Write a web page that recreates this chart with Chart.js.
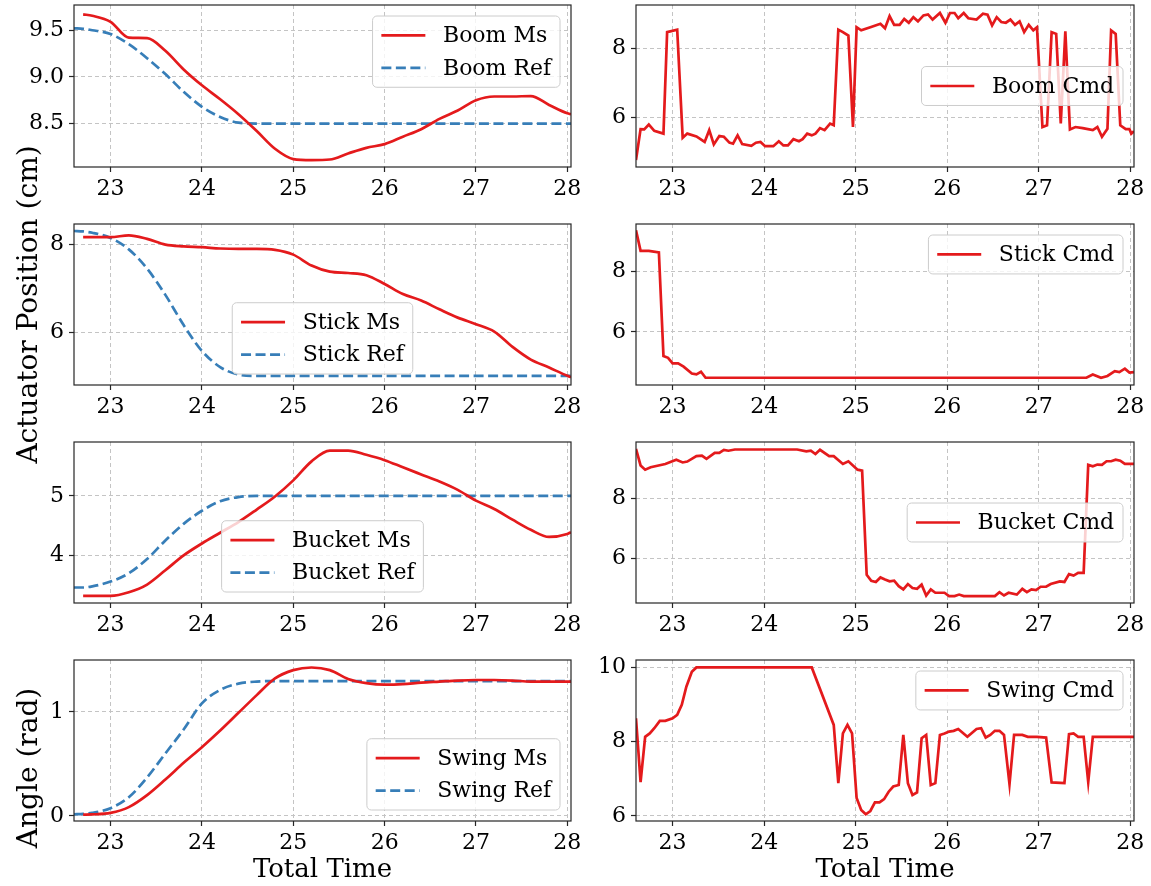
<!DOCTYPE html>
<html>
<head>
<meta charset="utf-8">
<script src="https://cdn.jsdelivr.net/npm/chart.js@4.4.0/dist/chart.umd.min.js"></script>
<style>
html, body { margin: 0; padding: 0; background: #fff; }
#wrap { position: relative; width: 1151px; height: 886px; }
#wrap canvas { position: absolute; left: 0; top: 0; }
</style>
</head>
<body>
<div id="wrap"></div>
<script>
// ---- DATA ----
// shared time grid for the measured / reference curves (left column)
const tGrid = [22.6, 22.7, 22.8, 23.0, 23.2, 23.4, 23.6, 23.8, 24.0, 24.2, 24.4, 24.6, 24.8, 25.0, 25.2,
  25.4, 25.6, 25.8, 26.0, 26.2, 26.4, 26.6, 26.8, 27.0, 27.2, 27.4, 27.6, 27.8, 28.0, 28.04];

const boomMs = [null, 9.67, 9.655, 9.59, 9.42, 9.415, 9.28, 9.08, 8.91, 8.76, 8.60, 8.42, 8.23, 8.12, 8.108,
  8.115, 8.18, 8.24, 8.28, 8.36, 8.44, 8.55, 8.64, 8.75, 8.79, 8.79, 8.795, 8.70, 8.61, 8.60];
const boomRef = [9.52, 9.515, 9.50, 9.46, 9.35, 9.20, 9.03, 8.84, 8.68, 8.57, 8.51, 8.50, 8.50, 8.50, 8.50,
  8.50, 8.50, 8.50, 8.50, 8.50, 8.50, 8.50, 8.50, 8.50, 8.50, 8.50, 8.50, 8.50, 8.50, 8.50];

const stickMs = [null, 8.17, 8.17, 8.17, 8.21, 8.13, 8.00, 7.96, 7.94, 7.91, 7.90, 7.90, 7.88, 7.77, 7.52,
  7.38, 7.35, 7.30, 7.10, 6.87, 6.72, 6.52, 6.33, 6.18, 6.01, 5.66, 5.37, 5.19, 5.00, 4.97];
const stickRef = [8.31, 8.30, 8.27, 8.15, 7.89, 7.45, 6.85, 6.16, 5.57, 5.20, 5.03, 5.00, 5.00, 5.00, 5.00,
  5.00, 5.00, 5.00, 5.00, 5.00, 5.00, 5.00, 5.00, 5.00, 5.00, 5.00, 5.00, 5.00, 5.00, 5.00];

const bucketMs = [null, 3.32, 3.32, 3.32, 3.38, 3.51, 3.75, 4.00, 4.20, 4.38, 4.56, 4.77, 4.99, 5.26, 5.58,
  5.76, 5.76, 5.69, 5.60, 5.48, 5.36, 5.24, 5.10, 4.92, 4.78, 4.60, 4.43, 4.31, 4.36, 4.39];
const bucketRef = [3.46, 3.46, 3.48, 3.56, 3.70, 3.94, 4.25, 4.53, 4.75, 4.91, 4.98, 5.00, 5.00, 5.00, 5.00,
  5.00, 5.00, 5.00, 5.00, 5.00, 5.00, 5.00, 5.00, 5.00, 5.00, 5.00, 5.00, 5.00, 5.00, 5.00];

const swingMs = [null, 0.013, 0.015, 0.03, 0.085, 0.20, 0.35, 0.51, 0.66, 0.82, 0.99, 1.16, 1.32, 1.40, 1.425,
  1.40, 1.315, 1.275, 1.26, 1.265, 1.28, 1.29, 1.30, 1.305, 1.305, 1.30, 1.29, 1.29, 1.29, 1.29];
const swingRef = [0.016, 0.02, 0.03, 0.075, 0.18, 0.37, 0.60, 0.83, 1.08, 1.21, 1.27, 1.29, 1.295, 1.295, 1.295,
  1.295, 1.295, 1.295, 1.295, 1.295, 1.295, 1.295, 1.295, 1.295, 1.295, 1.295, 1.295, 1.295, 1.295, 1.295];

// command signals (right column)
const boomCmdT = [22.6, 22.65, 22.69, 22.74, 22.8, 22.9, 22.94, 23.05, 23.11, 23.16,
  23.26, 23.35, 23.4, 23.45, 23.51, 23.56, 23.62, 23.66, 23.71, 23.76,
  23.86, 23.91, 23.96, 24.01, 24.1, 24.16, 24.21, 24.26, 24.32, 24.38,
  24.42, 24.47, 24.52, 24.56, 24.61, 24.66, 24.72, 24.76, 24.81, 24.86,
  24.92, 24.97, 25.01, 25.06, 25.16, 25.27, 25.32, 25.37, 25.42, 25.48,
  25.53, 25.58, 25.63, 25.68, 25.74, 25.79, 25.84, 25.92, 25.98, 26.03,
  26.08, 26.12, 26.18, 26.23, 26.32, 26.39, 26.44, 26.49, 26.54, 26.59,
  26.64, 26.69, 26.74, 26.79, 26.84, 26.89, 26.94, 26.98, 27.04, 27.09,
  27.14, 27.19, 27.24, 27.29, 27.34, 27.4, 27.48, 27.59, 27.64, 27.69,
  27.75, 27.79, 27.84, 27.89, 27.95, 27.99, 28.01, 28.04];
const boomCmd = [4.78, 5.67, 5.66, 5.80, 5.62, 5.54, 8.46, 8.53, 5.42, 5.54,
  5.46, 5.30, 5.64, 5.23, 5.47, 5.45, 5.28, 5.25, 5.49, 5.24,
  5.19, 5.28, 5.30, 5.18, 5.18, 5.32, 5.20, 5.20, 5.38, 5.32,
  5.38, 5.54, 5.49, 5.54, 5.70, 5.64, 5.83, 5.78, 8.53, 8.46,
  8.36, 5.73, 8.60, 8.51, 8.60, 8.70, 8.57, 8.92, 8.67, 8.67,
  8.84, 8.73, 8.89, 8.77, 8.94, 8.97, 8.82, 9.01, 8.73, 9.01,
  9.01, 8.86, 9.01, 8.86, 8.82, 8.99, 8.96, 8.65, 8.89, 8.75,
  8.73, 8.82, 8.67, 8.77, 8.46, 8.67, 8.51, 8.60, 5.73, 5.78,
  8.46, 8.41, 5.83, 8.48, 5.66, 5.73, 5.70, 5.64, 5.73, 5.45,
  5.68, 8.51, 8.41, 5.78, 5.67, 5.67, 5.54, 5.61];

const stickCmdT = [22.6, 22.65, 22.74, 22.85, 22.9, 22.95, 23.0, 23.06, 23.12, 23.21, 23.26, 23.31, 23.36,
  27.52, 27.59, 27.68, 27.75, 27.83, 27.88, 27.94, 27.99, 28.04];
const stickCmd = [9.37, 8.69, 8.69, 8.64, 5.20, 5.14, 4.96, 4.96, 4.85, 4.62, 4.59, 4.68, 4.48,
  4.48, 4.59, 4.48, 4.54, 4.70, 4.67, 4.78, 4.65, 4.67];

const bucketCmdT = [22.6, 22.65, 22.7, 22.76, 22.92, 23.04, 23.11, 23.16, 23.26, 23.32,
  23.37, 23.46, 23.51, 23.56, 23.61, 23.68, 24.36, 24.46, 24.51, 24.56,
  24.61, 24.71, 24.76, 24.86, 24.92, 25.02, 25.07, 25.12, 25.17, 25.22,
  25.27, 25.32, 25.37, 25.42, 25.47, 25.52, 25.57, 25.62, 25.67, 25.72,
  25.77, 25.82, 25.87, 25.97, 26.02, 26.08, 26.13, 26.18, 26.52, 26.57,
  26.62, 26.67, 26.76, 26.82, 26.87, 26.92, 26.97, 27.02, 27.08, 27.13,
  27.23, 27.28, 27.33, 27.38, 27.43, 27.49, 27.54, 27.59, 27.64, 27.69,
  27.74, 27.79, 27.84, 27.89, 27.94, 28.04];
const bucketCmd = [9.65, 9.10, 8.96, 9.04, 9.15, 9.29, 9.20, 9.23, 9.41, 9.43,
  9.32, 9.52, 9.52, 9.62, 9.59, 9.63, 9.63, 9.57, 9.59, 9.48,
  9.62, 9.41, 9.41, 9.15, 9.24, 8.96, 8.93, 5.47, 5.27, 5.23,
  5.38, 5.31, 5.25, 5.27, 5.09, 4.98, 5.16, 5.03, 5.00, 5.14,
  4.78, 4.98, 4.87, 4.87, 4.76, 4.76, 4.81, 4.76, 4.76, 4.89,
  4.78, 4.87, 4.81, 5.00, 4.89, 4.98, 4.96, 5.07, 5.07, 5.16,
  5.25, 5.23, 5.49, 5.44, 5.53, 5.53, 9.12, 9.07, 9.13, 9.12,
  9.24, 9.24, 9.29, 9.26, 9.15, 9.15];

const swingCmdT = [22.6, 22.65, 22.7, 22.75, 22.8, 22.86, 22.92, 23.0, 23.05, 23.1,
  23.15, 23.21, 23.26, 24.52, 24.76, 24.81, 24.86, 24.91, 24.96, 25.01,
  25.06, 25.11, 25.16, 25.21, 25.26, 25.31, 25.36, 25.41, 25.47, 25.52,
  25.57, 25.62, 25.67, 25.72, 25.77, 25.82, 25.87, 25.92, 25.97, 26.02,
  26.07, 26.12, 26.22, 26.32, 26.37, 26.42, 26.47, 26.52, 26.57, 26.62,
  26.68, 26.73, 26.82, 26.88, 26.98, 27.08, 27.14, 27.28, 27.33, 27.38,
  27.43, 27.49, 27.54, 27.59, 28.04];
const swingCmd = [8.63, 6.91, 8.13, 8.22, 8.36, 8.56, 8.56, 8.63, 8.72, 8.99,
  9.48, 9.88, 10.0, 10.0, 8.45, 6.88, 8.22, 8.45, 8.22, 6.48,
  6.16, 6.04, 6.13, 6.36, 6.36, 6.45, 6.65, 6.79, 6.83, 8.18,
  6.88, 6.56, 6.63, 8.09, 8.18, 6.83, 6.88, 8.18, 8.22, 8.27,
  8.29, 8.34, 8.13, 8.34, 8.36, 8.11, 8.18, 8.29, 8.29, 8.18,
  6.85, 8.18, 8.18, 8.13, 8.13, 8.11, 6.90, 6.88, 8.20, 8.22,
  8.13, 8.13, 6.91, 8.13, 8.13];

// axis ranges
const xRange = [22.6, 28.04];
const yRangeLeft = [[8.035, 9.77], [4.79, 8.47], [3.20, 5.905], [-0.048, 1.497]];
const yRangeRight = [[4.58, 9.24], [4.24, 9.58], [4.53, 9.88], [5.86, 10.2]];
const yStepLeft = [0.5, 2, 1, 1];

// ---- LAYOUT / STYLE ----
const W = 1151, H = 886;
const RED = "#e41a1c", BLUE = "#377eb8";
const FONT = "DejaVu Serif";
const colX = [[74, 571], [636, 1134]];
const rowY = [[5, 167], [224, 385], [442, 603], [660, 821]];
const wrap = document.getElementById("wrap");

function pts(t, v){ return t.map((x, i) => ({x: x, y: v[i]})); }

function msSet(label, v){
  return {label, data: pts(tGrid, v), borderColor: RED, borderWidth: 2.7,
    cubicInterpolationMode: "monotone", pointRadius: 0, fill: false};
}
function refSet(label, v){
  return {label, data: pts(tGrid, v), borderColor: BLUE, borderWidth: 2.7, borderDash: [10, 4.5],
    cubicInterpolationMode: "monotone", pointRadius: 0, fill: false};
}
function cmdSet(label, t, v){
  return {label, data: pts(t, v), borderColor: RED, borderWidth: 2.7, tension: 0, pointRadius: 0, fill: false};
}

// box round the plot area
const framePlugin = {
  id: "frame",
  afterDatasetsDraw(chart){
    const a = chart.chartArea, ctx = chart.ctx;
    ctx.save();
    ctx.strokeStyle = "#262626";
    ctx.lineWidth = 1.2;
    ctx.strokeRect(a.left, a.top, a.right - a.left, a.bottom - a.top);
    ctx.restore();
  }
};

// matplotlib-like legend inside the axes
const boxLegend = {
  id: "boxLegend",
  afterDraw(chart, args, opts){
    const ctx = chart.ctx, a = chart.chartArea, F = opts.size;
    const sets = chart.data.datasets;
    ctx.save();
    ctx.font = F + "px '" + FONT + "'";
    const tw = Math.max(...sets.map(d => ctx.measureText(d.label).width));
    const rowH = F * 0.97, pad = 0.4 * F, hl = 2 * F, gap = 0.8 * F, sp = 0.5 * F, m = 0.5 * F;
    const bw = pad * 2 + hl + gap + tw;
    const bh = pad * 2 + sets.length * rowH + (sets.length - 1) * sp;
    const loc = opts.loc;
    let x, y;
    if (loc.endsWith("right")) x = a.right - m - bw;
    else if (loc.endsWith("left")) x = a.left + m;
    else x = (a.left + a.right) / 2 - bw / 2;
    if (loc.startsWith("upper")) y = a.top + m;
    else if (loc.startsWith("lower")) y = a.bottom - m - bh;
    else y = (a.top + a.bottom) / 2 - bh / 2;

    ctx.beginPath();
    ctx.roundRect(x, y, bw, bh, 0.2 * F);
    ctx.fillStyle = "rgba(255,255,255,0.8)";
    ctx.fill();
    ctx.strokeStyle = "#cccccc";
    ctx.lineWidth = 1;
    ctx.stroke();

    sets.forEach((d, i) => {
      const cy = y + pad + i * (rowH + sp) + rowH / 2;
      ctx.beginPath();
      ctx.setLineDash(d.borderDash || []);
      ctx.strokeStyle = d.borderColor;
      ctx.lineWidth = d.borderWidth;
      ctx.moveTo(x + pad, cy);
      ctx.lineTo(x + pad + hl, cy);
      ctx.stroke();
      ctx.setLineDash([]);
      ctx.fillStyle = "#000";
      ctx.textAlign = "left";
      ctx.textBaseline = "middle";
      ctx.fillText(d.label, x + pad + hl + gap, cy + 1);
    });
    ctx.restore();
  }
};

// free figure label (rotated y label that is not centred on its axes)
const figLabel = {
  id: "figLabel",
  afterDraw(chart, args, opts){
    if (!opts.text) return;
    const ctx = chart.ctx;
    ctx.save();
    ctx.translate(opts.x, opts.y);
    ctx.rotate(-Math.PI / 2);
    ctx.font = opts.size + "px '" + FONT + "'";
    ctx.fillStyle = "#000";
    ctx.textAlign = "center";
    ctx.textBaseline = "middle";
    ctx.fillText(opts.text, 0, 0);
    ctx.restore();
  }
};

function zeroPad(s){ s.paddingLeft = 0; s.paddingRight = 0; s.paddingTop = 0; s.paddingBottom = 0; }

function makeChart(col, row, sets, yr, step, fmt, loc, yTitle, xTitle, extra){
  const [L, R] = colX[col], [T, B] = rowY[row];
  const yw = col === 0 ? 74 : 60;
  const xh = xTitle ? H - B : 40;
  const cv = document.createElement("canvas");
  cv.width = W; cv.height = H;
  cv.style.width = W + "px"; cv.style.height = H + "px";
  wrap.appendChild(cv);
  const tickFont = {family: FONT, size: 22};
  const grid = {color: "#c4c4c4", lineWidth: 1, tickLength: 5, tickColor: "#262626", tickWidth: 1.2, tickBorderDash: []};
  new Chart(cv, {
    type: "line",
    data: {datasets: sets},
    options: {
      responsive: false,
      animation: false,
      devicePixelRatio: 1,
      layout: {padding: {left: L - yw, top: T, right: W - R, bottom: H - B - xh}},
      plugins: {
        legend: {display: false},
        tooltip: {enabled: false},
        boxLegend: {loc: loc, size: 22},
        figLabel: extra || {}
      },
      scales: {
        x: {
          type: "linear", min: xRange[0], max: xRange[1],
          afterFit: s => { s.height = xh; zeroPad(s); },
          ticks: {stepSize: 1, includeBounds: false, maxRotation: 0, autoSkip: false, padding: 4,
            color: "#000", font: tickFont},
          grid: grid,
          border: {display: false, dash: [4, 3]},
          title: {display: !!xTitle, text: xTitle || "", color: "#000",
            font: {family: FONT, size: 26}, padding: {top: 0, bottom: 0}}
        },
        y: {
          min: yr[0], max: yr[1],
          afterFit: s => { s.width = yw; zeroPad(s); },
          ticks: {stepSize: step, includeBounds: false, padding: 5, color: "#000", font: tickFont,
            callback: v => fmt ? v.toFixed(1) : String(v)},
          grid: grid,
          border: {display: false, dash: [4, 3]},
          title: {display: !!yTitle, text: yTitle || "", color: "#000",
            font: {family: FONT, size: 28}, padding: {top: 13, bottom: 0}}
        }
      }
    },
    plugins: [framePlugin, boxLegend, figLabel]
  });
}

// left column
makeChart(0, 0, [msSet("Boom Ms", boomMs), refSet("Boom Ref", boomRef)],
  yRangeLeft[0], yStepLeft[0], true, "upper right", null, null);
makeChart(0, 1, [msSet("Stick Ms", stickMs), refSet("Stick Ref", stickRef)],
  yRangeLeft[1], yStepLeft[1], false, "lower center", "Actuator Position (cm)", null);
makeChart(0, 2, [msSet("Bucket Ms", bucketMs), refSet("Bucket Ref", bucketRef)],
  yRangeLeft[2], yStepLeft[2], false, "lower center", null, null);
makeChart(0, 3, [msSet("Swing Ms", swingMs), refSet("Swing Ref", swingRef)],
  yRangeLeft[3], yStepLeft[3], false, "lower right", null, "Total Time",
  {text: "Angle (rad)", x: 30, y: 768, size: 28});

// right column
makeChart(1, 0, [cmdSet("Boom Cmd", boomCmdT, boomCmd)], yRangeRight[0], 2, false, "center right", null, null);
makeChart(1, 1, [cmdSet("Stick Cmd", stickCmdT, stickCmd)], yRangeRight[1], 2, false, "upper right", null, null);
makeChart(1, 2, [cmdSet("Bucket Cmd", bucketCmdT, bucketCmd)], yRangeRight[2], 2, false, "center right", null, null);
makeChart(1, 3, [cmdSet("Swing Cmd", swingCmdT, swingCmd)], yRangeRight[3], 2, false, "upper right", null, "Total Time");
</script>
</body>
</html>
